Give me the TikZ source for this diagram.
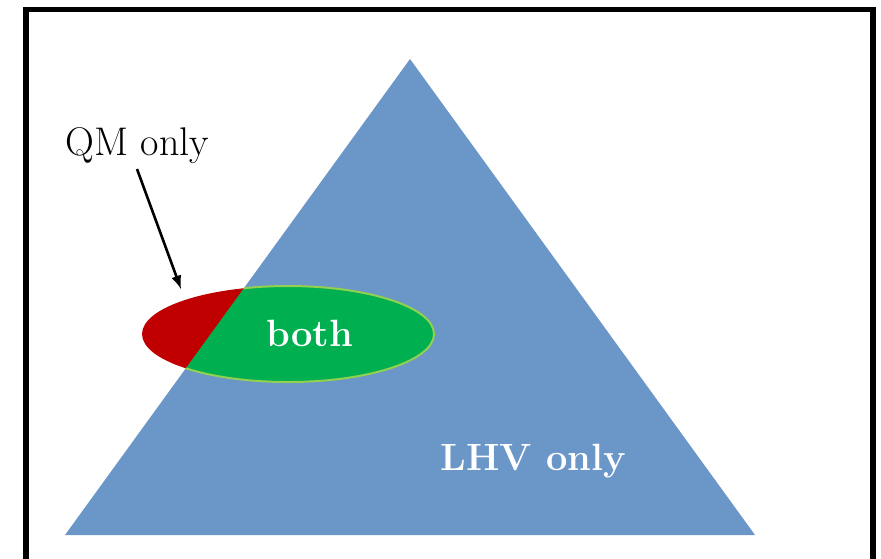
\documentclass[tikz,border=0pt]{standalone}
\usepackage{tikz}
\usetikzlibrary{arrows,positioning}
\definecolor{lhvblue}{RGB}{106,150,200}
\definecolor{qmred}{RGB}{192,0,0}
\definecolor{bothgreen}{RGB}{0,176,80}
\definecolor{rimgreen}{RGB}{146,208,80}
\tikzset{
   frame/.style={draw=black, line width=2.6pt},
   label text/.style={inner sep=0pt, anchor=base, font=\fontsize{20}{24}\selectfont},
   region text/.style={label text, text=white, font=\fontsize{19}{23}\selectfont\bfseries},
   pointer/.style={->, line width=1.3pt},
   >=latex
}
\begin{document}
\begin{tikzpicture}[x=0.5pt,y=-0.5pt]
  \clip (0,0) rectangle (881,558);
  \draw[frame] (26,9.5) rectangle (873,580);

  % the LHV triangle
  \fill[lhvblue] (65,535) -- (410,59) -- (755,535) -- cycle;

  % overlap ellipse: red outside, green inside the triangle
  \fill[qmred] (288,334) ellipse [x radius=146, y radius=48];
  \begin{scope}
    \clip (65,535) -- (410,59) -- (755,535) -- cycle;
    \fill[bothgreen] (288,334) ellipse [x radius=146, y radius=48];
    \draw[rimgreen, line width=1pt] (288,334) ellipse [x radius=146, y radius=48];
  \end{scope}

  \node[label text]  at (137.5,155) (qm)   {QM only};
  \node[region text] at (310,346)   (both) {both};
  \node[region text] at (533.5,470) (lhv)  {LHV only};

  \coordinate (qm tail) at (137,169);
  \coordinate (qm tip)  at (181,289);
  \draw[pointer] (qm tail) -- (qm tip);
\end{tikzpicture}
\end{document}
